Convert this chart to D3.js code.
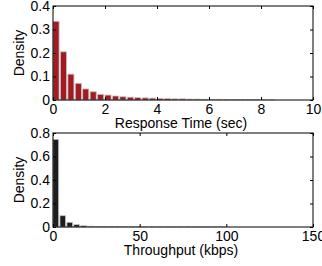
<!DOCTYPE html>
<html>
<head>
<meta charset="UTF-8">
<script src="https://d3js.org/d3.v7.min.js"></script>
<style>
  body { margin: 0; background: #fff; }
  svg text { font-family: "Liberation Sans", Arial, sans-serif; font-size: 14px; fill: #000; }
</style>
</head>
<body>
<svg width="322" height="266"></svg>
<script>
// response time histogram (sec), bins of 10/35
const rtBinWidth = 10 / 35;
const rtDensity = [0.335, 0.205, 0.11, 0.071, 0.047, 0.035, 0.024, 0.021, 0.017, 0.014,
  0.012, 0.010, 0.009, 0.008, 0.007, 0.006, 0.005, 0.005, 0.004, 0.004,
  0.003, 0.003, 0.003, 0.002, 0.002, 0.002, 0.002, 0.002, 0.001, 0.001];
const rtXTicks = [0, 2, 4, 6, 8, 10];
const rtYTicks = [0, 0.1, 0.2, 0.3, 0.4];

// throughput histogram (kbps), bins of 4
const tpBinWidth = 4;
const tpDensity = [0.746, 0.096, 0.04, 0.02, 0.011, 0.007, 0.005, 0.004, 0.003, 0.003,
  0.002, 0.002, 0.002, 0.001, 0.001, 0.001, 0.001, 0.001, 0.001, 0.001,
  0.001, 0.001, 0.001, 0.001, 0.001];
const tpXTicks = [0, 50, 100, 150];
const tpYTicks = [0, 0.2, 0.4, 0.6, 0.8];

const svg = d3.select("svg");

function panel(opt) {
  const left = 53, right = 313;
  const x = d3.scaleLinear().domain(opt.xDomain).range([left, right]);
  const y = d3.scaleLinear().domain(opt.yDomain).range([opt.bottom, opt.top]);
  const g = svg.append("g");

  g.selectAll("rect.bar")
    .data(opt.values)
    .enter().append("rect")
    .attr("class", "bar")
    .attr("x", (d, i) => x(i * opt.binWidth))
    .attr("width", x(opt.binWidth * 0.82) - x(0))
    .attr("y", d => y(d))
    .attr("height", d => y(0) - y(d))
    .attr("fill", opt.color)
    .attr("stroke", "#c4c4c4")
    .attr("stroke-width", 0.8);

  // ticks on all four sides, pointing in
  const tl = 3;
  g.append("g").attr("transform", `translate(0,${opt.bottom})`)
    .call(d3.axisBottom(x).tickValues(opt.xTicks).tickSize(-tl).tickPadding(4).tickFormat(d3.format("~g")))
    .call(a => a.select(".domain").remove());
  g.append("g").attr("transform", `translate(0,${opt.top})`)
    .call(d3.axisTop(x).tickValues(opt.xTicks).tickSize(-tl).tickFormat(""))
    .call(a => a.select(".domain").remove());
  g.append("g").attr("transform", `translate(${left},0)`)
    .call(d3.axisLeft(y).tickValues(opt.yTicks).tickSize(-tl).tickPadding(3).tickFormat(d3.format("~g")))
    .call(a => a.select(".domain").remove());
  g.append("g").attr("transform", `translate(${right},0)`)
    .call(d3.axisRight(y).tickValues(opt.yTicks).tickSize(-tl).tickFormat(""))
    .call(a => a.select(".domain").remove());

  g.selectAll(".tick line").attr("stroke", "#000");
  g.selectAll(".tick text").style("font-size", "14px").attr("fill", "#000");

  g.append("rect")
    .attr("x", left).attr("y", opt.top)
    .attr("width", right - left).attr("height", opt.bottom - opt.top)
    .attr("fill", "none").attr("stroke", "#000").attr("stroke-width", 1);

  g.append("text")
    .attr("x", (left + right) / 2 - 2).attr("y", opt.bottom + 28)
    .attr("text-anchor", "middle")
    .text(opt.xLabel);

  g.append("text")
    .attr("transform", `translate(24,${(opt.top + opt.bottom) / 2}) rotate(-90)`)
    .attr("text-anchor", "middle")
    .text("Density");
}

panel({
  top: 6, bottom: 100, xDomain: [0, 10], yDomain: [0, 0.4],
  values: rtDensity, binWidth: rtBinWidth, color: "#a31b22",
  xTicks: rtXTicks, yTicks: rtYTicks, xLabel: "Response Time (sec)"
});

panel({
  top: 133, bottom: 227, xDomain: [0, 150], yDomain: [0, 0.8],
  values: tpDensity, binWidth: tpBinWidth, color: "#1e1e1e",
  xTicks: tpXTicks, yTicks: tpYTicks, xLabel: "Throughput (kbps)"
});
</script>
</body>
</html>
